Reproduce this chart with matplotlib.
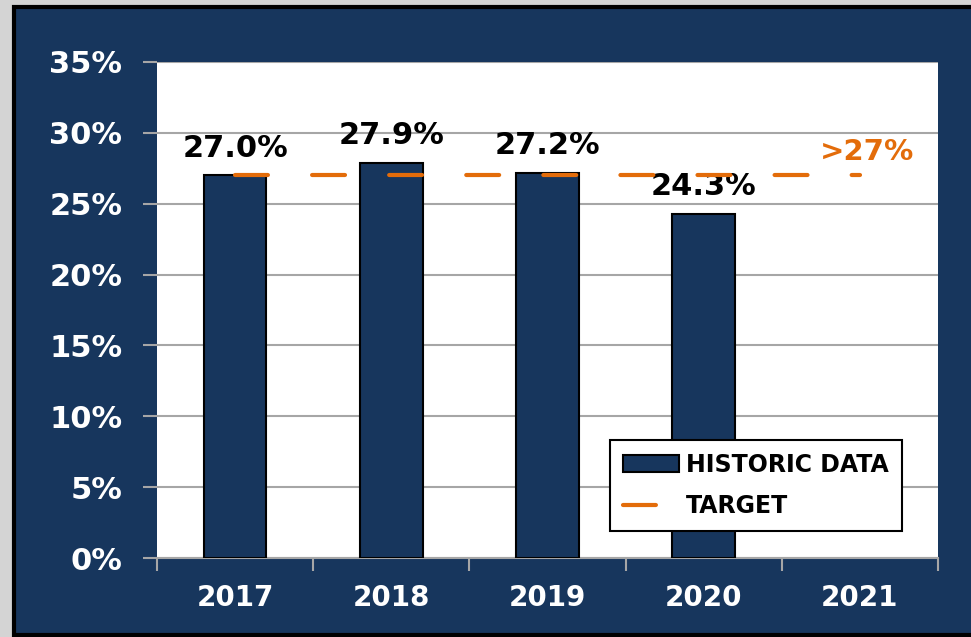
import numpy as np
import matplotlib.pyplot as plt
from matplotlib.patches import Rectangle
from matplotlib.ticker import FuncFormatter

# values
years = ["2017", "2018", "2019", "2020", "2021"]
historic = [27.0, 27.9, 27.2, 24.3]
target = 27.0
target_label = ">27%"

navy = "#17365d"
orange = "#e36c0a"

fig = plt.figure(figsize=(9.71, 6.37), dpi=100, facecolor="#d4d4d4")
fig.patches.append(Rectangle((0.0145, 0.003), 1.0, 0.986, transform=fig.transFigure,
                             facecolor=navy, edgecolor="black", linewidth=3, zorder=-1))

ax = fig.add_axes([0.1617, 0.124, 0.8043, 0.7787])
ax.set_facecolor("white")

x = np.arange(len(years))
bars = ax.bar(x[:len(historic)], historic, width=0.4, color=navy, edgecolor="black",
              linewidth=1.5, label="HISTORIC DATA", zorder=3)
line, = ax.plot(x, [target] * len(years), color=orange, linewidth=3, dashes=(7.9, 10.6),
                dash_capstyle="round", label="TARGET", zorder=4)

for xi, v in zip(x, historic):
    ax.annotate(f"{v:.1f}%", (xi, v), xytext=(0, 9), textcoords="offset points",
                ha="center", va="bottom", fontsize=22, fontweight="bold", color="black")
ax.annotate(target_label, (x[-1], target), xytext=(-29, 17), textcoords="offset points",
            ha="left", va="center", fontsize=21, fontweight="bold", color=orange)

ax.set_ylim(0, 35)
ax.set_yticks(np.arange(0, 36, 5))
ax.yaxis.set_major_formatter(FuncFormatter(lambda v, p: f"{v:.0f}%"))
ax.set_xlim(-0.5, len(years) - 0.5)
ax.set_xticks(x)
ax.set_xticklabels(years)
ax.set_xticks(np.arange(-0.5, len(years)), minor=True)
ax.tick_params(axis="x", which="major", length=0, pad=19, labelsize=20, labelcolor="white")
ax.tick_params(axis="x", which="minor", length=9, width=1.5, color="#a6a6a6", direction="out")
ax.tick_params(axis="y", length=10, width=1.5, color="#a6a6a6", pad=15, labelsize=22,
               labelcolor="white")
for lbl in ax.get_xticklabels() + ax.get_yticklabels():
    lbl.set_fontweight("bold")

ax.grid(axis="y", color="#a6a6a6", linewidth=1.5, zorder=0)
for side in ["top", "right", "left"]:
    ax.spines[side].set_visible(False)
ax.spines["bottom"].set_color("#a6a6a6")
ax.spines["bottom"].set_linewidth(1.5)

leg = ax.legend([bars, line], ["HISTORIC DATA", "TARGET"], loc="lower right",
                bbox_to_anchor=(0.954, 0.054), prop={"weight": "bold", "size": 17},
                fancybox=False, framealpha=1, edgecolor="black", handlelength=2.4,
                handletextpad=0.3, borderpad=0.55, labelspacing=0.75, borderaxespad=0)
leg.get_frame().set_linewidth(1.5)
leg.set_zorder(10)

fig.savefig("out.png", dpi=100, facecolor=fig.get_facecolor())
